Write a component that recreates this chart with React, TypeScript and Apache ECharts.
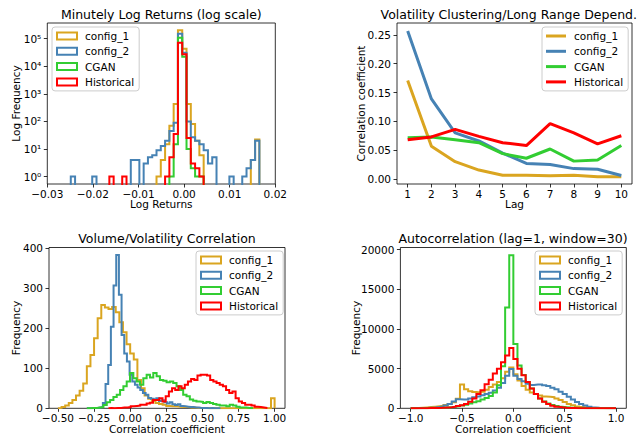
import React, { useEffect, useRef } from "react";
import * as echarts from "echarts";

const NAMES = ["config_1", "config_2", "CGAN", "Historical"];
const COLORS = ["#DAA520", "#4682B4", "#32CD32", "#FF0000"];
const FONT = '"DejaVu Sans", "Liberation Sans", sans-serif';

// ---- Panel 1: Minutely log returns (log scale), shared bins ----
const RET_BIN_START = -0.02485;
const RET_BIN_WIDTH = 0.00094;
const RET_CONFIG1 = [
  0, 0, 0, 0, 0, 0, 0, 0, 0, 0,
  0, 0, 0, 0, 0, 0, 0, 0, 0, 0,
  1, 4, 15, 70, 430, 200000, 43000, 430, 80, 20,
  6, 0, 0, 0, 0, 0, 0, 0, 0, 0,
  0, 0, 4, 22,
];
const RET_CONFIG2 = [
  1, 0, 0, 0, 0, 1, 0, 0, 0, 0,
  0, 0, 0, 0, 4, 4, 0, 3, 5, 6,
  9, 13, 20, 45, 90, 150000, 31000, 100, 27, 20,
  15, 9, 3, 5, 0, 0, 0, 1, 0, 0,
  1, 2, 4, 20,
];
const RET_CGAN = [
  0, 0, 0, 0, 0, 0, 0, 0, 0, 0,
  0, 0, 0, 0, 0, 0, 0, 0, 0, 0,
  0, 0, 0, 1, 15, 107000, 22000, 10, 2, 1,
  1, 0, 0, 0, 0, 0, 0, 0, 0, 0,
  0, 0, 0, 0,
];
const RET_HIST = [
  0, 0, 0, 0, 0, 0, 0, 0, 0, 1,
  0, 0, 1, 0, 0, 0, 0, 0, 0, 0,
  0, 0, 1, 5, 35, 71000, 27000, 25, 3, 2,
  1, 0, 0, 0, 0, 0, 0, 0, 0, 0,
  0, 0, 0, 0,
];
const RET_X_TICKS = [-0.03, -0.02, -0.01, 0, 0.01, 0.02];
const RET_Y_TICKS = [1, 10, 100, 1000, 10000, 100000];
const LOG_FLOOR = 0.001;

// ---- Panel 2: Volatility clustering ----
const LAGS = [1, 2, 3, 4, 5, 6, 7, 8, 9, 10];
const ACF_CONFIG1 = [0.171, 0.057, 0.03, 0.0155, 0.0065, 0.0065, 0.0055, 0.0065, 0.004, 0.004];
const ACF_CONFIG2 = [0.257, 0.139, 0.08, 0.066, 0.045, 0.027, 0.025, 0.018, 0.017, 0.006];
const ACF_CGAN = [0.0716, 0.073, 0.068, 0.063, 0.044, 0.036, 0.052, 0.031, 0.033, 0.058];
const ACF_HIST = [0.068, 0.073, 0.086, 0.074, 0.063, 0.058, 0.096, 0.08, 0.061, 0.075];
const ACF_Y_TICKS = [0, 0.05, 0.1, 0.15, 0.2, 0.25];

// ---- Panel 3: Volume/Volatility correlation ----
const VV_CONFIG1_START = -0.5;
const VV_CONFIG1_WIDTH = 0.025;
const VV_CONFIG1 = [
  1, 3, 7, 13, 21, 32, 44, 62, 105, 133,
  175, 225, 258, 252, 248, 253, 240, 215, 190, 160,
  137, 122, 71, 50, 32, 24, 18, 13, 11, 9,
  6, 5, 5, 4, 3, 3, 2, 2, 1, 1,
  1, 0, 1, 0, 0, 0, 0, 0, 0, 0,
  0, 0, 0, 0, 0, 0, 0, 0, 0, 25,
];
const VV_CONFIG2_START = -0.3;
const VV_CONFIG2_WIDTH = 0.0185;
const VV_CONFIG2 = [
  0, 0, 1, 1, 2, 3, 13, 61, 108, 204,
  307, 383, 284, 183, 137, 117, 84, 67, 59, 52,
  46, 38, 34, 26, 24, 22, 25, 18, 20, 15,
  12, 15, 10, 8, 10, 6, 5, 4, 3, 3,
  2, 2, 1, 1, 1, 0, 1, 0, 0, 0,
];
const VV_CGAN_START = -0.3;
const VV_CGAN_WIDTH = 0.023;
const VV_CGAN = [
  0, 1, 1, 2, 3, 8, 15, 21, 28, 34,
  46, 55, 67, 88, 75, 67, 59, 75, 84, 77,
  88, 80, 71, 69, 65, 67, 63, 55, 46, 34,
  30, 22, 19, 17, 16, 13, 16, 13, 11, 9,
  7, 7, 5, 9, 7, 4, 2, 2, 1, 1,
];
const VV_HIST_START = -0.15;
const VV_HIST_WIDTH = 0.022;
const VV_HIST = [
  1, 0, 1, 1, 2, 2, 3, 5, 6, 7,
  9, 9, 12, 14, 21, 21, 25, 17, 30, 42,
  50, 46, 55, 50, 59, 67, 73, 71, 82, 84,
  84, 82, 71, 67, 63, 59, 55, 46, 38, 42,
  25, 17, 13, 9, 9, 7, 4, 3, 2, 1,
];
const VV_X_TICKS = [-0.5, -0.25, 0, 0.25, 0.5, 0.75, 1.0];
const VV_Y_TICKS = [0, 100, 200, 300, 400];

// ---- Panel 4: Autocorrelation (lag=1, window=30), shared bins ----
const AC_BIN_START = -1;
const AC_BIN_WIDTH = 0.04;
const AC_CONFIG1 = [
  20, 40, 70, 110, 150, 200, 260, 330, 420, 550,
  750, 1200, 3000, 2400, 2150, 2050, 2000, 2100, 2350, 2700,
  3000, 3300, 3800, 4600, 5150, 4300, 3500, 2800, 2350, 2000,
  1800, 1600, 1500, 1450, 1400, 1250, 1050, 800, 550, 380,
  240, 150, 90, 50, 30, 15, 8, 4, 2, 1,
];
const AC_CONFIG2 = [
  10, 20, 30, 50, 70, 100, 150, 230, 350, 550,
  850, 1150, 1100, 1100, 1250, 1400, 1500, 1650, 1800, 1950,
  2250, 2600, 3200, 4100, 4950, 4100, 3700, 3400, 3100, 2950,
  3000, 3000, 2900, 2800, 2600, 2400, 2100, 1800, 1450, 1100,
  800, 550, 350, 200, 110, 60, 30, 15, 8, 3,
];
const AC_CGAN = [
  5, 8, 12, 18, 25, 35, 50, 70, 100, 140,
  190, 260, 350, 450, 600, 750, 900, 1100, 1300, 1550,
  2000, 2900, 5300, 12700, 19300, 8100, 5400, 4200, 3300, 2500,
  1800, 1250, 850, 600, 420, 300, 200, 140, 90, 60,
  40, 25, 15, 10, 6, 4, 2, 1, 1, 1,
];
const AC_HIST = [
  5, 8, 12, 18, 25, 35, 50, 70, 100, 140,
  200, 290, 400, 550, 830, 1250, 1790, 2290, 3030, 3600,
  4370, 5000, 5800, 6650, 7600, 6200, 5000, 4150, 3300, 2500,
  1800, 1250, 830, 540, 330, 200, 120, 70, 40, 25,
  15, 8, 5, 3, 2, 1, 1, 0, 0, 0,
];
const AC_X_TICKS = [-1, -0.5, 0, 0.5, 1];
const AC_Y_TICKS = [0, 5000, 10000, 15000, 20000];

const SUP: Record<string, string> = { "0": "\u2070", "1": "\u00B9", "2": "\u00B2", "3": "\u00B3", "4": "\u2074", "5": "\u2075", "-": "\u207B" };

const TICK_FS = 10.5;
const TITLE_FS = 12.5;

function outline(start: number, width: number, counts: number[], base: number) {
  const pts: number[][] = [[start, base]];
  counts.forEach((c, i) => {
    const v = c > 0 ? c : base;
    pts.push([start + i * width, v], [start + (i + 1) * width, v]);
  });
  pts.push([start + counts.length * width, base]);
  return pts;
}

const signed = (d: number) => (v: number) =>
  (v < -1e-12 ? "\u2212" : "") + Math.abs(v).toFixed(d);

function axis(gridIndex: number, type: string, min: number, max: number, ticks: number[], fmt: any, margin: number) {
  return {
    type,
    gridIndex,
    min,
    max,
    axisLine: { show: false, onZero: false },
    splitLine: { show: false },
    axisTick: { show: true, inside: false, length: 3.5, customValues: ticks, lineStyle: { color: "#000", width: 0.8 } },
    axisLabel: { show: true, customValues: ticks, formatter: fmt, color: "#000", fontSize: TICK_FS, fontFamily: FONT, margin },
  };
}

function histSeries(idx: number, starts: number[], widths: number[], data: number[][], base: number) {
  return data.map((counts, k) => ({
    name: NAMES[k],
    type: "line",
    xAxisIndex: idx,
    yAxisIndex: idx,
    data: outline(starts[k], widths[k], counts, base),
    symbol: "none",
    clip: true,
    silent: true,
    lineStyle: { color: COLORS[k], width: 2, join: "miter" },
    itemStyle: { color: COLORS[k] },
  }));
}

function legend(left: number, top: number, lineIcon: boolean) {
  return {
    orient: "vertical",
    left,
    top,
    align: "left",
    itemWidth: 20,
    itemHeight: lineIcon ? 3 : 7,
    itemGap: 3.3,
    padding: [3, 5, 3, 4],
    borderColor: "#cccccc",
    borderWidth: 1,
    borderRadius: 3,
    backgroundColor: "rgba(255,255,255,0.8)",
    selectedMode: false,
    textStyle: { fontSize: TICK_FS, color: "#000", fontFamily: FONT, lineHeight: 12, padding: [0, 0, 0, 3] },
    data: NAMES.map((n, k) => ({
      name: n,
      icon: "rect",
      itemStyle: lineIcon
        ? { color: COLORS[k], borderWidth: 0 }
        : { color: "rgba(255,255,255,0)", borderColor: COLORS[k], borderWidth: 2 },
    })),
  };
}

function text(x: number, y: number, s: string, size: number, rotate = false, align = "center") {
  return {
    type: "text",
    x,
    y,
    rotation: rotate ? Math.PI / 2 : 0,
    silent: true,
    style: { text: s, fontSize: size, fontFamily: FONT, fill: "#000", align, verticalAlign: "middle" },
  };
}

const gridBase = { show: true, borderColor: "#000", borderWidth: 0.8, backgroundColor: "transparent" };

const option: any = {
  animation: false,
  textStyle: { fontFamily: FONT },
  grid: [
    { ...gridBase, left: 47.3, top: 23, width: 228, height: 161 },
    { ...gridBase, left: 397, top: 23, width: 235, height: 161 },
    { ...gridBase, left: 49, top: 247.5, width: 236, height: 160.8 },
    { ...gridBase, left: 400.4, top: 247.5, width: 225.9, height: 160.8 },
  ],
  xAxis: [
    axis(0, "value", -0.03, 0.02, RET_X_TICKS, signed(2), 4),
    axis(1, "value", 0.55, 10.45, LAGS, (v: number) => String(v), 4),
    axis(2, "value", -0.562, 1.072, VV_X_TICKS, signed(2), 4),
    axis(3, "value", -1.1, 1.1, AC_X_TICKS, signed(1), 4),
  ],
  yAxis: [
    {
      ...axis(0, "log", 0.54, 370000, RET_Y_TICKS, (v: number) => "10" + String(Math.round(Math.log10(v))).split("").map((c) => SUP[c]).join(""), 6),
      logBase: 10,
    },
    axis(1, "value", -0.0087, 0.2707, ACF_Y_TICKS, (v: number) => v.toFixed(2), 6),
    axis(2, "value", 0, 402, VV_Y_TICKS, (v: number) => String(v), 6),
    axis(3, "value", 0, 20265, AC_Y_TICKS, (v: number) => String(v), 6),
  ],
  legend: [legend(52, 27, false), legend(542, 27, true), legend(196, 251, false), legend(535, 251, false)],
  series: [
    ...histSeries(0, [RET_BIN_START, RET_BIN_START, RET_BIN_START, RET_BIN_START], [RET_BIN_WIDTH, RET_BIN_WIDTH, RET_BIN_WIDTH, RET_BIN_WIDTH], [RET_CONFIG1, RET_CONFIG2, RET_CGAN, RET_HIST], LOG_FLOOR),
    ...[ACF_CONFIG1, ACF_CONFIG2, ACF_CGAN, ACF_HIST].map((vals, k) => ({
      name: NAMES[k],
      type: "line",
      xAxisIndex: 1,
      yAxisIndex: 1,
      data: LAGS.map((l, i) => [l, vals[i]]),
      symbol: "none",
      silent: true,
      lineStyle: { color: COLORS[k], width: 3 },
      itemStyle: { color: COLORS[k] },
    })),
    ...histSeries(2, [VV_CONFIG1_START, VV_CONFIG2_START, VV_CGAN_START, VV_HIST_START], [VV_CONFIG1_WIDTH, VV_CONFIG2_WIDTH, VV_CGAN_WIDTH, VV_HIST_WIDTH], [VV_CONFIG1, VV_CONFIG2, VV_CGAN, VV_HIST], 0),
    ...histSeries(3, [AC_BIN_START, AC_BIN_START, AC_BIN_START, AC_BIN_START], [AC_BIN_WIDTH, AC_BIN_WIDTH, AC_BIN_WIDTH, AC_BIN_WIDTH], [AC_CONFIG1, AC_CONFIG2, AC_CGAN, AC_HIST], 0),
  ],
  graphic: [
    text(161.3, 14, "Minutely Log Returns (log scale)", TITLE_FS),
    text(637, 14, "Volatility Clustering/Long Range Depend.", TITLE_FS, false, "right"),
    text(167, 238, "Volume/Volatility Correlation", TITLE_FS),
    text(513, 238, "Autocorrelation (lag=1, window=30)", TITLE_FS),
    text(161.3, 204, "Log Returns", TICK_FS),
    text(514.5, 204, "Lag", TICK_FS),
    text(167, 428.5, "Correlation coefficient", TICK_FS),
    text(513, 428.5, "Correlation coefficient", TICK_FS),
    text(15.5, 103.5, "Log Frequency", TICK_FS, true),
    text(361, 103.5, "Correlation coefficient", TICK_FS, true),
    text(16, 328, "Frequency", TICK_FS, true),
    text(355.5, 328, "Frequency", TICK_FS, true),
  ],
};

export default function App() {
  const ref = useRef<HTMLDivElement>(null);
  useEffect(() => {
    const chart = echarts.init(ref.current!, null, { renderer: "svg" });
    chart.setOption(option);
    return () => chart.dispose();
  }, []);
  return (
    <div
      ref={ref}
      style={{ position: "fixed", left: 0, top: 0, width: 639, height: 436, background: "#fff" }}
    />
  );
}
